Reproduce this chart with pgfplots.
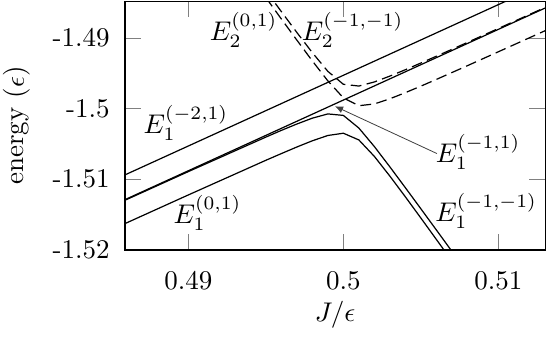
\documentclass[border=0pt]{standalone}
\usepackage{pgfplots}
\pgfplotsset{compat=1.18}
\usetikzlibrary{arrows.meta}
\begin{document}
\begin{tikzpicture}
\begin{axis}[
  at={(0,0)}, anchor=south west,
  scale only axis, width=155.6pt, height=92.2pt,
  xmin=0.48592, xmax=0.51301, ymin=-1.52, ymax=-1.4848,
  scaled ticks=false,
  xtick={0.49,0.5,0.51}, xticklabels={0.49,0.5,0.51},
  ytick={-1.52,-1.51,-1.5,-1.49}, yticklabels={-1.52,-1.51,-1.5,-1.49},
  tick align=inside, xtick pos=both, ytick pos=both,
  major tick length=6pt,
  xticklabel style={yshift=-4.3pt},
  yticklabel style={xshift=-2.2pt},
  xlabel={$J/\epsilon$}, ylabel={energy ($\epsilon$)},
  xlabel style={at={(axis description cs:0.5,-0.26)}, anchor=center},
  ylabel style={at={(axis description cs:-0.257,0.5)}, anchor=center},
]
% E1^(-2,1)
\addplot[black, line width=0.45pt] coordinates {(0.485,-1.5103) (0.5135,-1.4818)};
% E1^(-1,1)
\addplot[black, line width=0.45pt] coordinates {(0.485,-1.5138) (0.5135,-1.4853)};
% E1^(-1,-1)
\addplot[black, line width=0.45pt] coordinates {
(0.485,-1.51388) (0.490,-1.50892) (0.495,-1.50404) (0.496,-1.50309) (0.497,-1.50219)
(0.498,-1.50136) (0.499,-1.50076) (0.500,-1.50097) (0.501,-1.50276) (0.502,-1.50538)
(0.503,-1.50825) (0.504,-1.51120) (0.505,-1.51418) (0.506,-1.51718) (0.507,-1.52019)
(0.508,-1.52321)};
% E1^(0,1)
\addplot[black, line width=0.45pt] coordinates {
(0.485,-1.51718) (0.490,-1.51222) (0.495,-1.50732) (0.496,-1.50637) (0.497,-1.50544)
(0.498,-1.50456) (0.499,-1.50381) (0.500,-1.50349) (0.501,-1.50444) (0.502,-1.50677)
(0.503,-1.50956) (0.504,-1.51249) (0.505,-1.51549) (0.506,-1.51852) (0.507,-1.52155)};
% E2^(-1,-1)
\addplot[black, line width=0.45pt, dash pattern=on 4pt off 2pt] coordinates {
(0.495,-1.48330) (0.496,-1.48629) (0.497,-1.48924) (0.498,-1.49210) (0.499,-1.49474)
(0.500,-1.49657) (0.501,-1.49682) (0.502,-1.49624) (0.503,-1.49541) (0.504,-1.49451)
(0.505,-1.49356) (0.506,-1.49260) (0.507,-1.49163) (0.508,-1.49065) (0.511,-1.48769)
(0.5135,-1.48522)};
% E2^(0,1)
\addplot[black, line width=0.45pt, dash pattern=on 4pt off 2pt] coordinates {
(0.495,-1.48430) (0.496,-1.48733) (0.497,-1.49032) (0.498,-1.49327) (0.499,-1.49609)
(0.500,-1.49849) (0.501,-1.49960) (0.502,-1.49935) (0.503,-1.49862) (0.504,-1.49775)
(0.505,-1.49683) (0.506,-1.49588) (0.507,-1.49491) (0.508,-1.49394) (0.511,-1.49098)
(0.5135,-1.48851)};
\node at (axis cs:0.48985,-1.50208) {$E_1^{(-2,1)}$};
\node at (axis cs:0.49357,-1.48887) {$E_2^{(0,1)}$};
\node at (axis cs:0.50060,-1.48887) {$E_2^{(-1,-1)}$};
\node at (axis cs:0.50869,-1.50617) {$E_1^{(-1,1)}$};
\node at (axis cs:0.50921,-1.51451) {$E_1^{(-1,-1)}$};
\node at (axis cs:0.49124,-1.51472) {$E_1^{(0,1)}$};
\draw[black!75, line width=0.3pt, -{Latex[length=3pt,width=2.6pt]}] (axis cs:0.50603,-1.50636) -- (axis cs:0.49946,-1.49968);
\end{axis}
\pgfresetboundingbox
\path[use as bounding box] (-46.30pt,-32.59pt) rectangle (156.30pt,92.59pt);
\end{tikzpicture}
\end{document}
